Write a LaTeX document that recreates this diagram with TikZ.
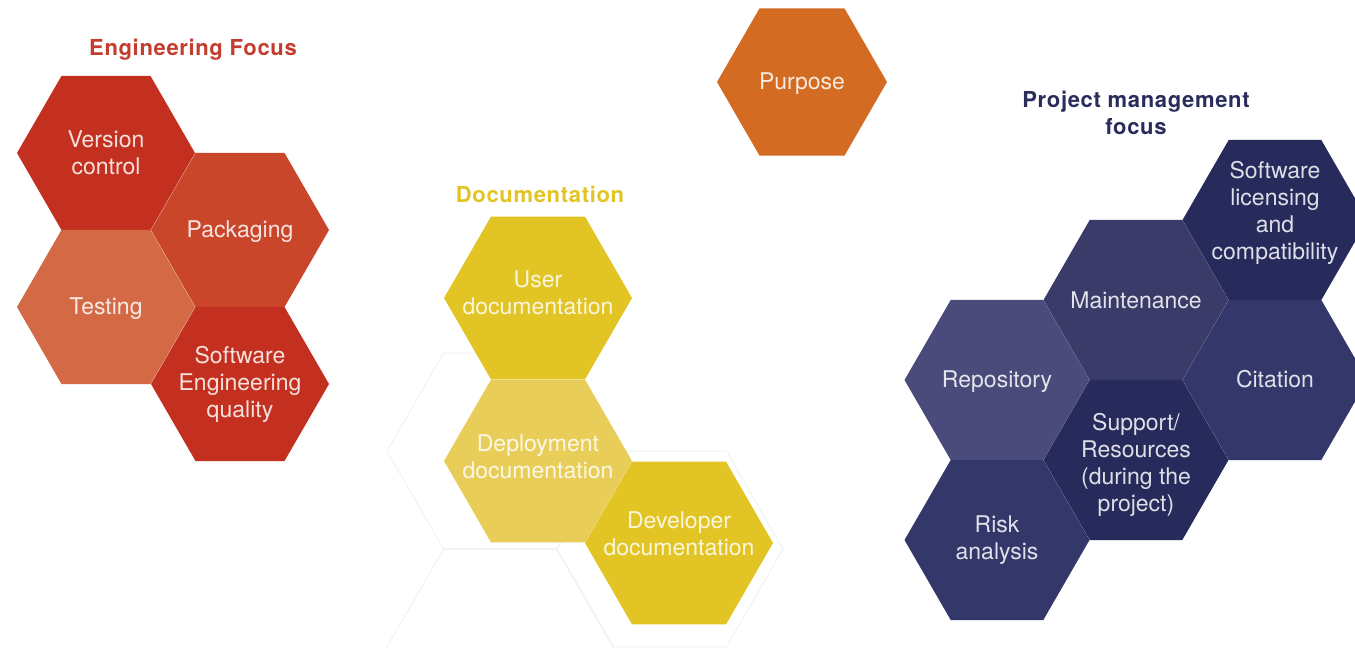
\documentclass[tikz,border=0pt]{standalone}
\usepackage{fontspec}
\setmainfont{TeX Gyre Heros}
\newfontfamily\titlefont[LetterSpace=3]{TeX Gyre Heros}
\usepackage{tikz}
\usetikzlibrary{
    shapes.geometric
}
\usepackage{xcolor}
\definecolor{engred}{RGB}{196,48,31}
\definecolor{engrust}{RGB}{201,70,43}
\definecolor{engsalmon}{RGB}{212,106,69}
\definecolor{engtitle}{RGB}{196,60,45}
\definecolor{purposeorange}{RGB}{211,107,34}
\definecolor{docyellow}{RGB}{226,196,37}
\definecolor{docpale}{RGB}{232,206,88}
\definecolor{pmslate}{RGB}{74,75,123}
\definecolor{pmmid}{RGB}{58,59,104}
\definecolor{pmdark}{RGB}{38,43,91}
\definecolor{pmnavy}{RGB}{52,55,106}
\definecolor{pmtitle}{RGB}{42,45,92}

\tikzset{
    hexcell/.style={regular polygon, regular polygon sides=6, inner sep=0pt, minimum size=#1},
    ghostcell/.style={regular polygon, regular polygon sides=6, inner sep=0pt, minimum size=226pt, draw=black!5, line width=1pt},
    hexlabel/.style={align=center, text=white, text opacity=0.85, font=\fontsize{23pt}{27pt}\selectfont},
    grouptitle/.style={align=center, font=\fontsize{22pt}{27pt}\selectfont\titlefont\bfseries}
}

\begin{document}
\begin{tikzpicture}[x=1pt, y=-1pt]
    \useasboundingbox (0,0) rectangle (1355,648);
    \fill[white] (0,0) rectangle (1355,648);

    % Faint background honeycomb
    \node[ghostcell] (ghost a) at (500,451) {};
    \node[ghostcell] (ghost b) at (500,647) {};
    \node[ghostcell] (ghost c) at (670,549) {};

    % Engineering focus
    \node[grouptitle, text=engtitle] (eng title) at (193,50) {Engineering Focus};
    \node[hexcell=178pt, fill=engred] (version) at (106,153) {};
    \node[hexcell=178pt, fill=engrust] (packaging) at (240,230) {};
    \node[hexcell=178pt, fill=engsalmon] (testing) at (106,307) {};
    \node[hexcell=178pt, fill=engred] (sequality) at (240,384) {};
    \node[hexlabel] (version text) at (version) {Version\\control};
    \node[hexlabel] (packaging text) at ([yshift=-2pt]packaging.center) {Packaging};
    \node[hexlabel] (testing text) at ([yshift=-2pt]testing.center) {Testing};
    \node[hexlabel] (sequality text) at (sequality) {Software\\Engineering\\quality};

    % Purpose
    \node[hexcell=170pt, fill=purposeorange] (purpose) at (802,82) {};
    \node[hexlabel] (purpose text) at ([yshift=-2pt]purpose.center) {Purpose};

    % Documentation
    \node[grouptitle, text=docyellow] (doc title) at (540,194) {Documentation};
    \node[hexcell=188pt, fill=docyellow] (userdoc) at (538,298) {};
    \node[hexcell=188pt, fill=docpale] (deploydoc) at (538,461) {};
    \node[hexcell=188pt, fill=docyellow] (devdoc) at (679,543) {};
    \node[hexlabel] (userdoc text) at ([yshift=5pt]userdoc.center) {User\\documentation};
    \node[hexlabel] (deploydoc text) at ([yshift=4pt]deploydoc.center) {Deployment\\documentation};
    \node[hexlabel] (devdoc text) at ([yshift=9pt]devdoc.center) {Developer\\documentation};

    % Project management focus
    \node[grouptitle, text=pmtitle] (pm title) at (1136,113) {Project management\\focus};
    \node[hexcell=185pt, fill=pmslate] (repository) at (997,380) {};
    \node[hexcell=185pt, fill=pmmid] (maintenance) at (1136,300) {};
    \node[hexcell=185pt, fill=pmdark] (licensing) at (1275,220) {};
    \node[hexcell=185pt, fill=pmnavy] (citation) at (1275,380) {};
    \node[hexcell=185pt, fill=pmdark] (support) at (1136,460) {};
    \node[hexcell=185pt, fill=pmnavy] (risk) at (997,540) {};
    \node[hexlabel] (repository text) at ([yshift=-2pt]repository.center) {Repository};
    \node[hexlabel] (maintenance text) at (maintenance) {Maintenance};
    \node[hexlabel] (licensing text) at ([yshift=7pt]licensing.center) {Software\\licensing\\and\\compatibility};
    \node[hexlabel] (citation text) at ([yshift=1pt]citation.center) {Citation};
    \node[hexlabel] (support text) at ([yshift=-5pt]support.center) {Support/\\Resources\\(during the\\project)};
    \node[hexlabel] (risk text) at (risk) {Risk\\analysis};

\end{tikzpicture}
\end{document}
